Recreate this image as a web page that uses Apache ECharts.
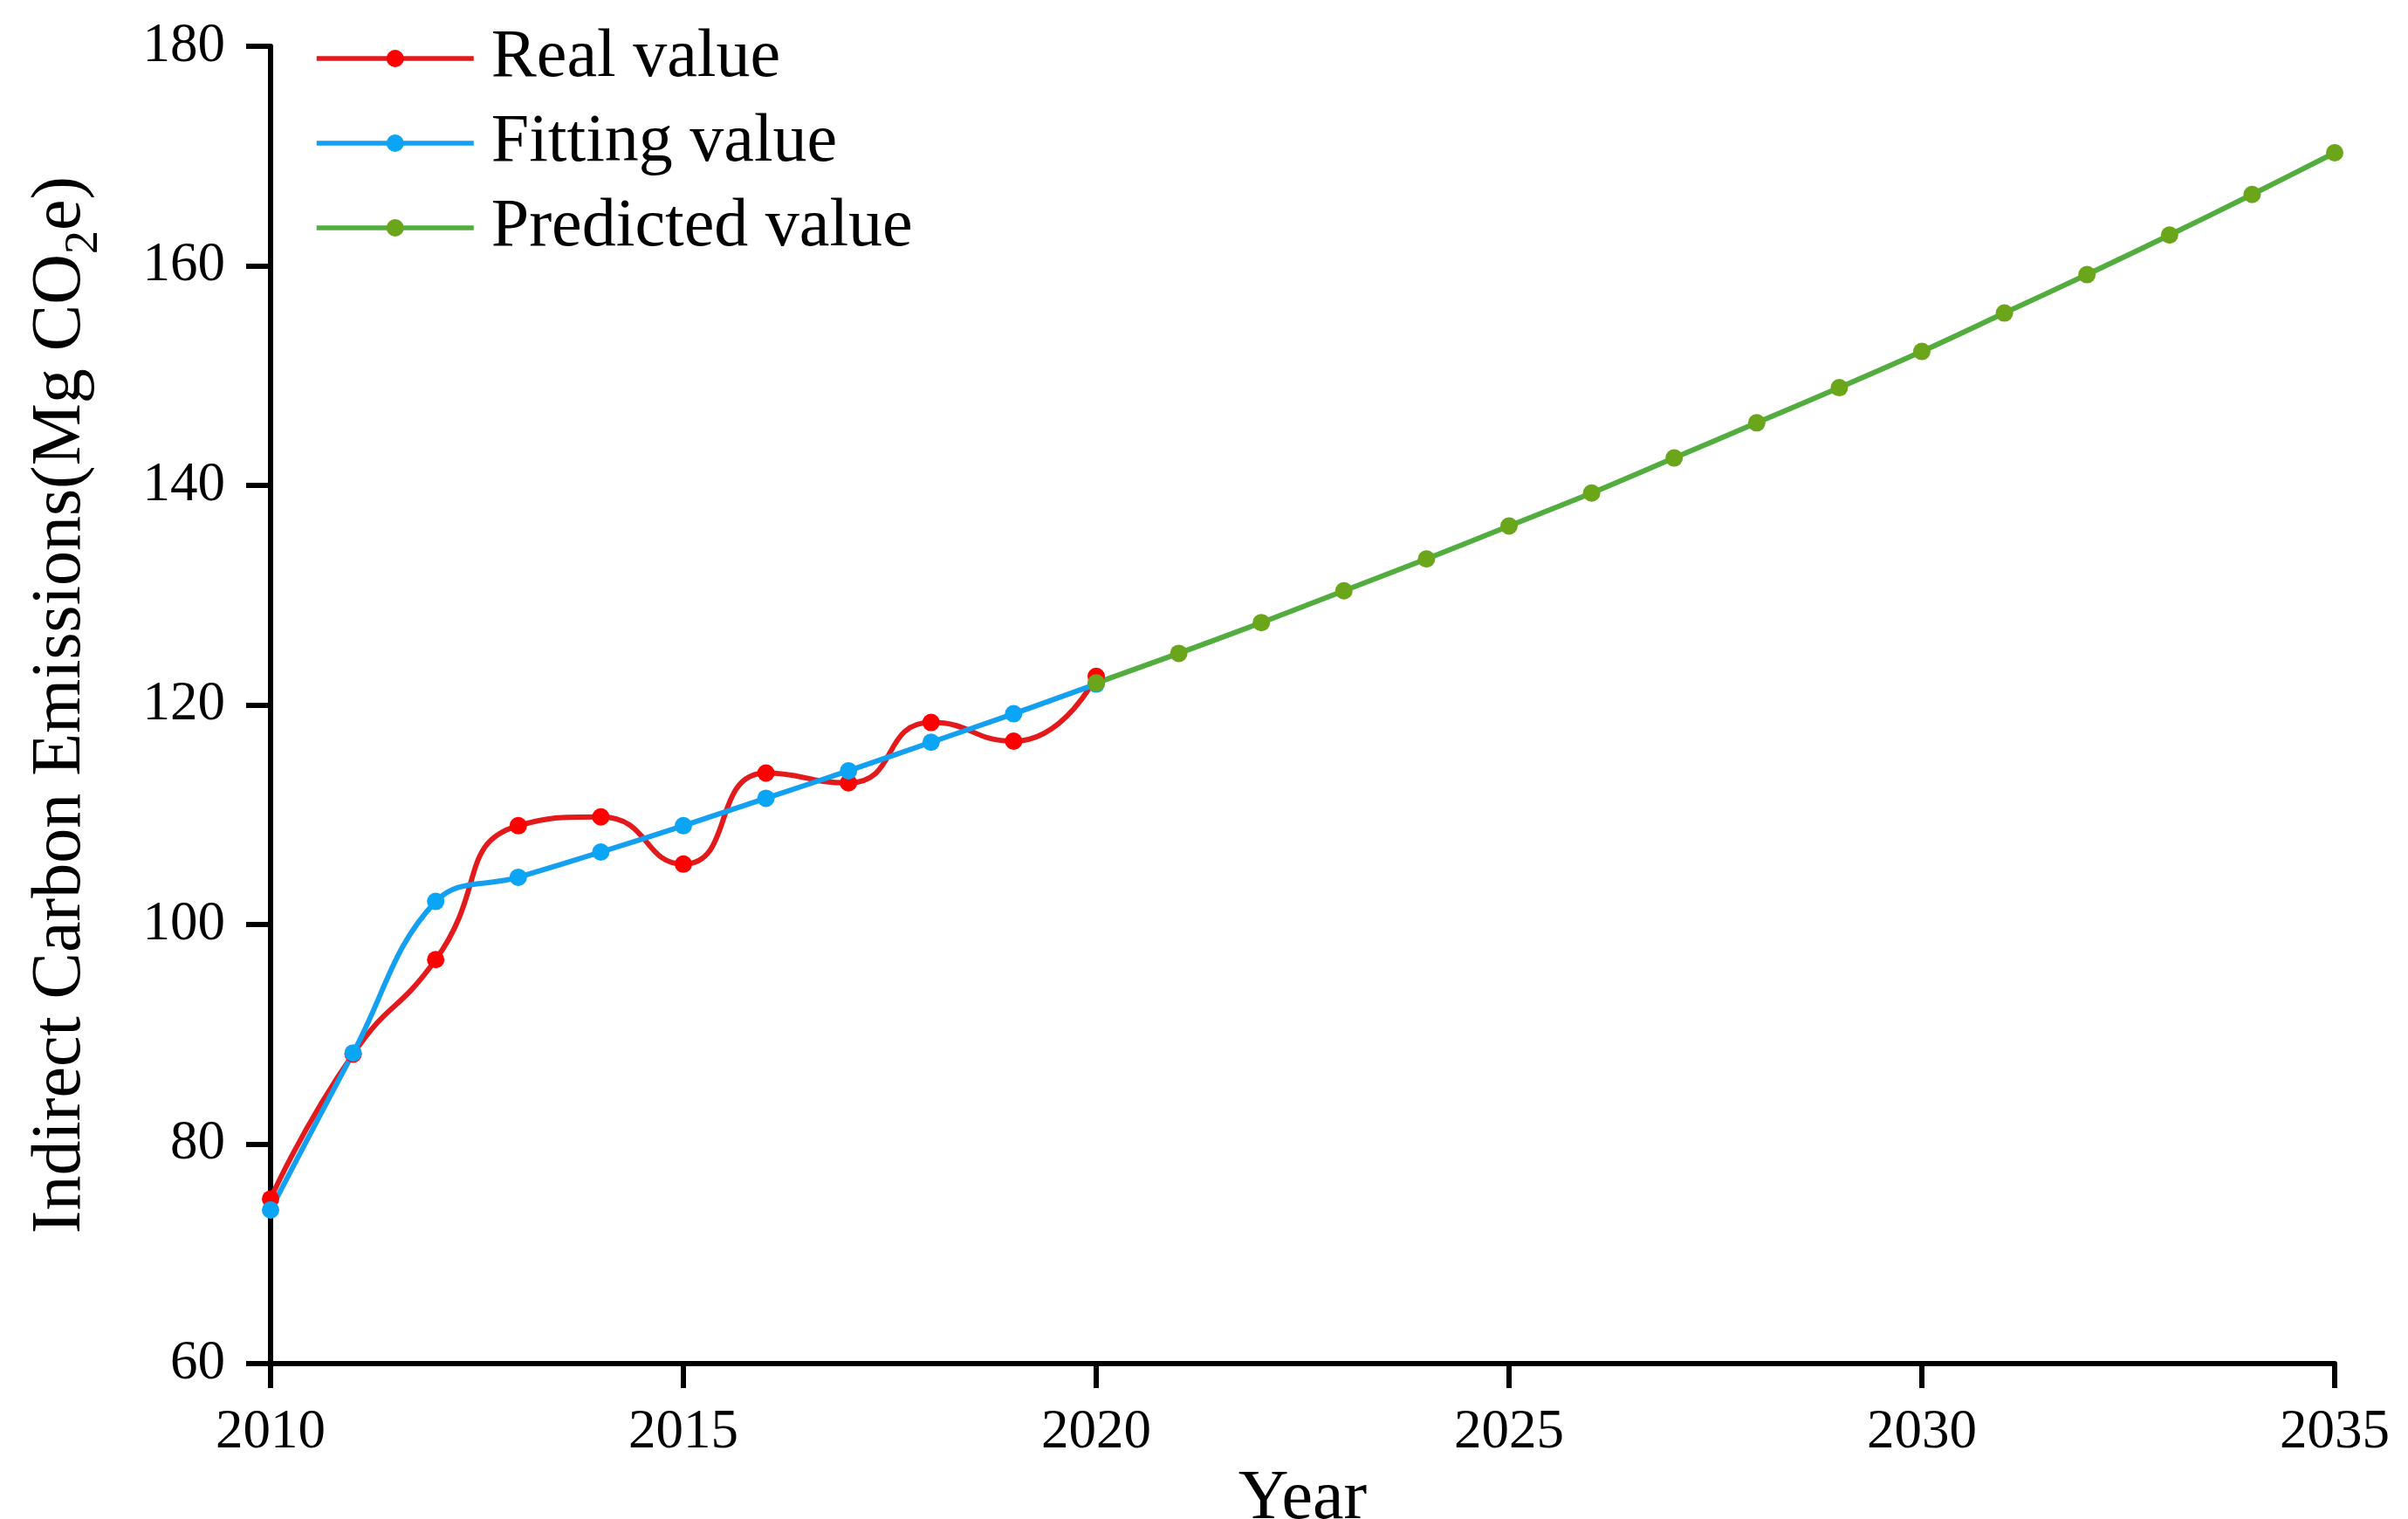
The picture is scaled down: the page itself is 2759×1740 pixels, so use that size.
<!DOCTYPE html>
<html>
<head>
<meta charset="utf-8">
<script src="https://cdn.jsdelivr.net/npm/echarts@6/dist/echarts.min.js"></script>
<style>
html,body{margin:0;padding:0;background:#fff;}
#chart{width:2759px;height:1740px;}
</style>
</head>
<body>
<div id="chart"></div>
<script>
const realYears = [2010, 2011, 2012, 2013, 2014, 2015, 2016, 2017, 2018, 2019, 2020];
const realValues = [75.0, 88.2, 96.8, 109.0, 109.8, 105.5, 113.8, 112.9, 118.4, 116.7, 122.6];

const fitYears = [2010, 2011, 2012, 2013, 2014, 2015, 2016, 2017, 2018, 2019, 2020];
const fitValues = [74.0, 88.3, 102.1, 104.3, 106.6, 109.0, 111.5, 114.0, 116.6, 119.2, 121.9];

const predYears = [2020, 2021, 2022, 2023, 2024, 2025, 2026, 2027, 2028, 2029, 2030, 2031, 2032, 2033, 2034, 2035];
const predValues = [122.0, 124.7, 127.5, 130.4, 133.3, 136.3, 139.3, 142.5, 145.7, 148.9, 152.2, 155.7, 159.2, 162.8, 166.5, 170.3];

const seriesNames = ['Real value', 'Fitting value', 'Predicted value'];

const pairs = (xs, ys) => xs.map((x, i) => [x, ys[i]]);
const FONT = 'Liberation Serif';

const chart = echarts.init(document.getElementById('chart'), null, {renderer: 'canvas'});
chart.setOption({
  backgroundColor: '#ffffff',
  animation: false,
  textStyle: {fontFamily: FONT, color: '#000'},
  grid: {left: 310, right: 84, top: 53, bottom: 178, containLabel: false, outerBoundsMode: 'none'},
  legend: {
    orient: 'vertical',
    left: 355,
    top: 23,
    itemWidth: 180,
    itemHeight: 25,
    itemGap: 19,
    lineStyle: {width: 5.5},
    textStyle: {fontFamily: FONT, fontSize: 78, color: '#000', padding: [0, 0, 0, 15]},
    data: seriesNames
  },
  xAxis: {
    type: 'value',
    min: 2010,
    max: 2035,
    interval: 5,
    name: 'Year',
    nameLocation: 'middle',
    nameGap: 89,
    nameTextStyle: {fontFamily: FONT, fontSize: 80, color: '#000'},
    axisLine: {show: true, onZero: false, lineStyle: {color: '#000', width: 6}},
    axisTick: {show: true, inside: false, length: 28, lineStyle: {color: '#000', width: 6}},
    axisLabel: {fontFamily: FONT, fontSize: 63, color: '#000', margin: 48, formatter: v => String(v)},
    splitLine: {show: false}
  },
  yAxis: {
    type: 'value',
    min: 60,
    max: 180,
    interval: 20,
    name: '{a|Indirect Carbon Emissions(Mg CO}{s|2}{a|e)}',
    nameLocation: 'middle',
    nameGap: 200,
    nameRotate: 90,
    nameTextStyle: {
      fontFamily: FONT, fontSize: 80, color: '#000',
      rich: {
        a: {fontFamily: FONT, fontSize: 80, color: '#000', lineHeight: 96, verticalAlign: 'bottom'},
        s: {fontFamily: FONT, fontSize: 54, color: '#000', lineHeight: 54, verticalAlign: 'bottom', padding: [0, 0, -14, 0]}
      }
    },
    axisLine: {show: true, lineStyle: {color: '#000', width: 6}},
    axisTick: {show: true, inside: false, length: 28, lineStyle: {color: '#000', width: 6}},
    axisLabel: {fontFamily: FONT, fontSize: 63, color: '#000', margin: 52},
    splitLine: {show: false}
  },
  series: [
    {
      name: seriesNames[0],
      type: 'line',
      data: pairs(realYears, realValues),
      smooth: 0.55,
      symbol: 'circle',
      symbolSize: 20,
      lineStyle: {color: '#e31a1c', width: 6},
      itemStyle: {color: '#ff0000'}
    },
    {
      name: seriesNames[1],
      type: 'line',
      data: pairs(fitYears, fitValues),
      smooth: 0.4,
      symbol: 'circle',
      symbolSize: 20,
      lineStyle: {color: '#14a0f0', width: 6},
      itemStyle: {color: '#0aa5f5'}
    },
    {
      name: seriesNames[2],
      type: 'line',
      data: pairs(predYears, predValues),
      smooth: 0.3,
      symbol: 'circle',
      symbolSize: 20,
      lineStyle: {color: '#52ad3e', width: 6},
      itemStyle: {color: '#6aa51a'}
    }
  ]
});
</script>
</body>
</html>
